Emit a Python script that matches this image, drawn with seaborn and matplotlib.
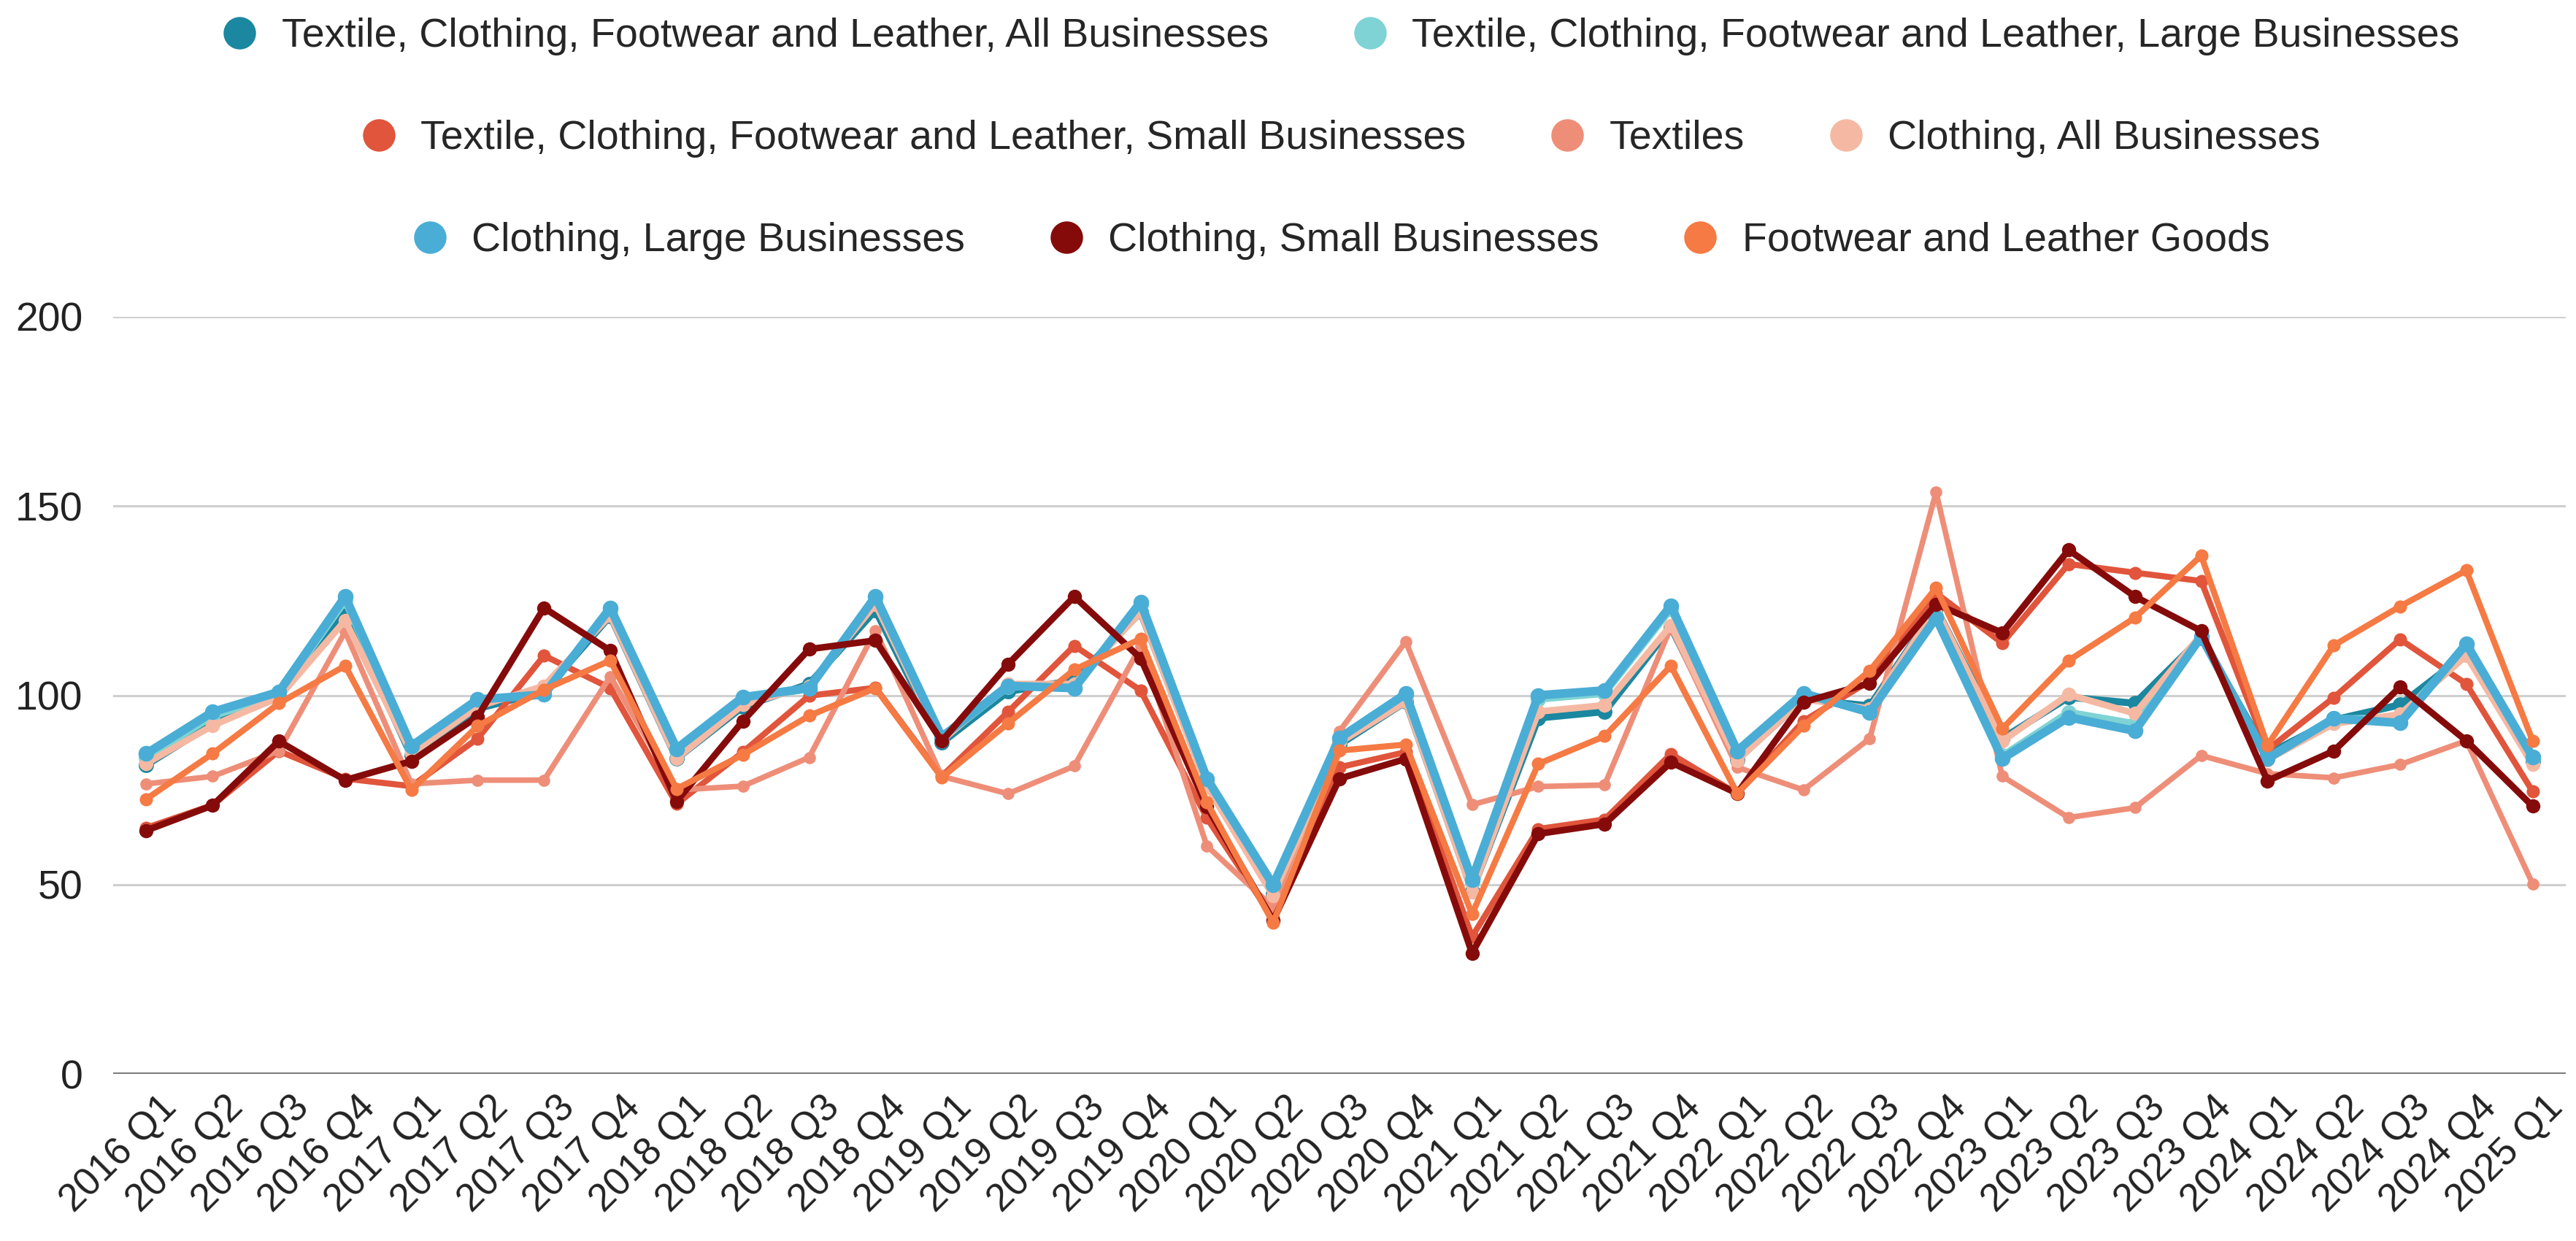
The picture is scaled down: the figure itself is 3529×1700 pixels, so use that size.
import matplotlib
matplotlib.use("Agg")
import matplotlib.pyplot as plt
import seaborn as sns
import pandas as pd
from matplotlib.lines import Line2D
from matplotlib.transforms import ScaledTranslation

quarters = ["2016 Q1", "2016 Q2", "2016 Q3", "2016 Q4",
            "2017 Q1", "2017 Q2", "2017 Q3", "2017 Q4",
            "2018 Q1", "2018 Q2", "2018 Q3", "2018 Q4",
            "2019 Q1", "2019 Q2", "2019 Q3", "2019 Q4",
            "2020 Q1", "2020 Q2", "2020 Q3", "2020 Q4",
            "2021 Q1", "2021 Q2", "2021 Q3", "2021 Q4",
            "2022 Q1", "2022 Q2", "2022 Q3", "2022 Q4",
            "2023 Q1", "2023 Q2", "2023 Q3", "2023 Q4",
            "2024 Q1", "2024 Q2", "2024 Q3", "2024 Q4",
            "2025 Q1"]

tcfl_all = [81.6, 92.5, 99.5, 122, 84, 96.5, 101, 121, 83.3, 97, 103, 122.5,
            87.5, 101, 104, 122, 76.6, 47.5, 87, 98.3, 48.3, 94, 95.7, 118,
            83, 99, 97.2, 123, 88.6, 99.5, 97.9, 115.2, 84.5, 93.5, 97.5, 111, 82.5]
tcfl_large = [83.5, 94.5, 100.2, 125, 86, 98.2, 100.5, 122.5, 85.2, 98.8, 101.8, 125.2,
              88.5, 102.2, 102.2, 123.8, 77.8, 49.2, 88.2, 99.8, 50.5, 99, 100.5, 122.8,
              84.6, 100, 96, 121.2, 84, 95.5, 92.5, 115.5, 83.6, 93.8, 94, 113, 83.4]
tcfl_small = [65, 71, 85.3, 78, 76, 88.6, 110.5, 101.9, 71.3, 85, 99.9, 102,
              78.6, 95.6, 113.1, 101.3, 67.6, 41, 81, 85, 36.2, 64.7, 67.2, 84.5,
              74, 93.2, 103.8, 127, 113.8, 134.7, 132.4, 130.2, 85.6, 99.4, 114.8, 103, 74.6]
textiles = [76.6, 78.6, 85.3, 116.8, 76.6, 77.6, 77.6, 105, 75, 76, 83.6, 117.1,
            78.6, 74, 81.3, 113, 60.2, 44, 90.5, 114.2, 71.1, 75.9, 76.3, 118,
            81, 75, 88.6, 153.7, 78.6, 67.7, 70.3, 84.1, 79.3, 78.2, 81.7, 88, 50.2]
clothing_all = [82, 92, 99.5, 119.8, 84.6, 97, 102.5, 121.1, 83.3, 97.5, 102.5, 124.1,
                88, 103, 103, 122, 76, 47, 87.5, 98.3, 48, 95.7, 97.4, 118.5,
                82.8, 99, 96.5, 123, 87.9, 100.2, 95.2, 116, 83, 92.5, 95, 110.5, 81.7]
clothing_large = [84.6, 95.6, 100.9, 126.1, 86.6, 98.9, 100.2, 123.1, 85.9, 99.5, 101.9, 126.1,
                  89, 102.5, 101.9, 124.6, 78, 49.9, 88.7, 100.4, 51.3, 100, 101.3, 123.7,
                  85.3, 100.5, 95.5, 120.5, 83.3, 94.2, 90.6, 115.5, 83.3, 93.9, 92.7, 113.6, 83.7]
clothing_small = [64.3, 70.9, 87.9, 77.6, 82.6, 94.4, 123.1, 111.8, 72, 93.2, 112.2, 114.5,
                  87.9, 108.2, 126.1, 109.8, 70.6, 40.5, 78, 83.2, 31.9, 63.4, 66, 82.3,
                  74.1, 98.2, 103.2, 124.1, 116.5, 138.4, 126.1, 117, 77.4, 85.3, 102.2, 88, 70.7]
footwear = [72.6, 84.6, 97.9, 107.8, 75, 91.9, 101.5, 109.2, 75.3, 84.3, 94.6, 101.9,
            78.3, 92.6, 106.8, 114.9, 71.7, 39.9, 85.4, 87, 42.2, 81.9, 89.2, 107.8,
            74.1, 91.9, 106.5, 128.4, 91.2, 109.2, 120.5, 136.9, 86.8, 113.2, 123.5, 133, 88]

series_names = [
    "Textile, Clothing, Footwear and Leather, All Businesses",
    "Textile, Clothing, Footwear and Leather, Large Businesses",
    "Textile, Clothing, Footwear and Leather, Small Businesses",
    "Textiles",
    "Clothing, All Businesses",
    "Clothing, Large Businesses",
    "Clothing, Small Businesses",
    "Footwear and Leather Goods",
]
series_values = [tcfl_all, tcfl_large, tcfl_small, textiles,
                 clothing_all, clothing_large, clothing_small, footwear]
colors = ["#1b87a0", "#7fd3d4", "#e0553b", "#ee8e78",
          "#f5b9a3", "#4aadd5", "#850b0b", "#f57a43"]
line_widths = [7, 7, 6, 5.5, 6.5, 8.5, 6.5, 6]
marker_sizes = [15, 15, 13, 12, 14, 15.5, 14, 13]

sns.set_theme(style="white")
plt.rcParams["font.family"] = ["Liberation Sans", "DejaVu Sans"]

W, H = 3530, 1700
fig = plt.figure(figsize=(W / 100, H / 100), dpi=100)
ax = fig.add_axes([155 / W, 1 - 1471 / H, (3515 - 155) / W, (1471 - 434) / H])

for name, vals, col, lw, ms in zip(series_names, series_values, colors,
                                   line_widths, marker_sizes):
    df = pd.DataFrame({"quarter": quarters, "value": vals})
    sns.lineplot(data=df, x="quarter", y="value", ax=ax, color=col, linewidth=lw,
                 marker="o", markersize=ms, markeredgewidth=0, sort=False,
                 legend=False)

ax.set_xlim(-0.5, len(quarters) - 0.5)
ax.set_ylim(0, 200)
ax.set_yticks([0, 50, 100, 150, 200])
ax.set_xticks(range(len(quarters)))
ax.set_xticklabels(quarters)
ax.set_xlabel("")
ax.set_ylabel("")
for s in ax.spines.values():
    s.set_visible(False)
ax.yaxis.grid(True, color="#cfcfcf", linewidth=2.2)
ax.xaxis.grid(False)
ax.set_axisbelow(True)
ax.get_ygridlines()[0].set_color("#6e6e6e")
ax.get_ygridlines()[0].set_linewidth(2.6)

ax.tick_params(axis="y", length=0, pad=30, labelsize=40, labelcolor="#222222")
ax.tick_params(axis="x", length=0, pad=28, labelsize=38, labelcolor="#222222")
offset = ScaledTranslation(0.34, 0, fig.dpi_scale_trans)
for lab in ax.get_xticklabels():
    lab.set_rotation(45)
    lab.set_ha("right")
    lab.set_va("center")
    lab.set_rotation_mode("anchor")
    lab.set_transform(lab.get_transform() + offset)

rows = [[0, 1], [2, 3, 4], [5, 6, 7]]
row_y = [1 - 50 / H, 1 - 190 / H, 1 - 330 / H]
xc = (155 + 3515) / 2 / W
for idxs, yy in zip(rows, row_y):
    handles = [Line2D([], [], linestyle="none", marker="o", markersize=32,
                      markeredgewidth=0, color=colors[i]) for i in idxs]
    labels = [series_names[i] for i in idxs]
    fig.legend(handles, labels, loc="center", bbox_to_anchor=(xc, yy),
               ncol=len(idxs), frameon=False, fontsize=40,
               handlelength=1.0, handletextpad=0.53, columnspacing=2.0,
               borderpad=0, borderaxespad=0)

fig.savefig("out.png", dpi=100, facecolor="white")
